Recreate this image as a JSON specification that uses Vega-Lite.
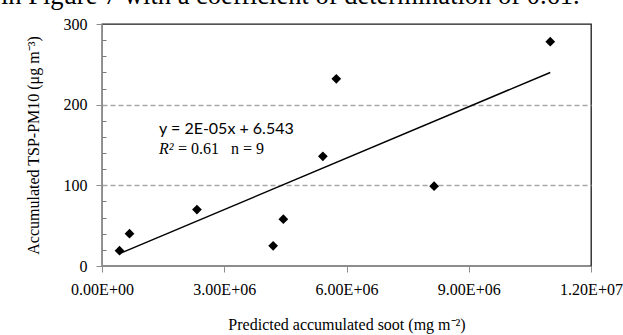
{
  "$schema": "https://vega.github.io/schema/vega-lite/v6.json",
  "width": 489,
  "height": 242,
  "autosize": "none",
  "padding": {"left": 102, "top": 24, "right": 32, "bottom": 69},
  "background": "white",
  "title": {
    "text": "in Figure 7 with a coefficient of determination of 0.61.",
    "anchor": "start",
    "frame": "group",
    "orient": "top",
    "font": "Liberation Serif",
    "fontSize": 26.5,
    "fontWeight": "normal",
    "color": "black",
    "baseline": "alphabetic",
    "offset": -14,
    "dx": -101
  },
  "config": {"view": {"stroke": "#1a1a1a", "strokeWidth": 1.3}},
  "resolve": {"axis": {"y": "independent"}},
  "datasets": {
    "points": [
      {"x": 430000, "y": 19},
      {"x": 675000, "y": 40},
      {"x": 2330000, "y": 70},
      {"x": 4200000, "y": 25},
      {"x": 4450000, "y": 58},
      {"x": 5420000, "y": 136},
      {"x": 5750000, "y": 232},
      {"x": 8150000, "y": 99},
      {"x": 11000000, "y": 278}
    ]
  },
  "layer": [
    {
      "data": {"name": "points"},
      "mark": {"type": "point", "shape": "diamond", "filled": true, "color": "black", "size": 95, "opacity": 1},
      "encoding": {
        "x": {
          "field": "x",
          "type": "quantitative",
          "scale": {"domain": [0, 12000000], "nice": false},
          "axis": {
            "values": [0, 3000000, 6000000, 9000000, 12000000],
            "labelExpr": "replace(format(datum.value, '.2e'), 'e+', 'E+0')",
            "grid": false,
            "domainColor": "#8c8c8c",
            "tickColor": "#8c8c8c",
            "tickSize": 6,
            "labelFont": "Liberation Serif",
            "labelFontSize": 16,
            "labelColor": "black",
            "labelPadding": 9,
            "labelFlush": false,
            "labelOverlap": false,
            "title": "Predicted accumulated soot (mg m⁻²)",
            "titleFont": "Liberation Serif",
            "titleFontSize": 16,
            "titleFontWeight": "normal",
            "titleColor": "black",
            "titlePadding": 19
          }
        },
        "y": {
          "field": "y",
          "type": "quantitative",
          "scale": {"domain": [0, 300], "nice": false},
          "axis": {
            "orient": "left",
            "values": [0, 100, 200, 300],
            "tickSize": 6,
            "grid": true,
            "gridOpacity": {"condition": {"test": "datum.value === 100 || datum.value === 200", "value": 1}, "value": 0},
            "gridDash": [5, 3],
            "gridColor": "#a6a6a6",
            "gridWidth": 1.3,
            "domainColor": "#8c8c8c",
            "tickColor": "#8c8c8c",
            "labelFont": "Liberation Serif",
            "labelFontSize": 16,
            "labelColor": "black",
            "labelPadding": 9,
            "labelFlush": false,
            "labelOverlap": false,
            "title": "Accumulated TSP-PM10 (μg m⁻³)",
            "titleFont": "Liberation Serif",
            "titleFontSize": 16,
            "titleFontWeight": "normal",
            "titleColor": "black",
            "titlePadding": 22
          }
        }
      }
    },
    {
      "data": {"name": "points"},
      "transform": [{"regression": "y", "on": "x", "method": "linear"}],
      "mark": {"type": "line", "color": "black", "strokeWidth": 1.5},
      "encoding": {
        "x": {"field": "x", "type": "quantitative"},
        "y": {
          "field": "y",
          "type": "quantitative",
          "axis": {
            "orient": "left",
            "offset": -4,
            "values": [20, 40, 60, 80, 120, 140, 160, 180, 220, 240, 260, 280],
            "labels": false,
            "domain": false,
            "grid": false,
            "ticks": true,
            "tickSize": 4,
            "tickWidth": 1,
            "tickColor": "#7a7a7a",
            "title": null
          }
        }
      }
    },
    {
      "data": {"values": [{"t": "y = 2E-05x + 6.543"}]},
      "mark": {"type": "text", "align": "left", "baseline": "middle", "font": "Lato", "fontSize": 16, "color": "black"},
      "encoding": {
        "text": {"field": "t"},
        "x": {"datum": 1400000, "type": "quantitative"},
        "y": {"datum": 170, "type": "quantitative", "axis": null}
      }
    },
    {
      "data": {"values": [{"t": "R²"}]},
      "mark": {"type": "text", "align": "left", "baseline": "middle", "font": "Liberation Serif", "fontSize": 16, "fontStyle": "italic", "color": "black"},
      "encoding": {
        "text": {"field": "t"},
        "x": {"datum": 1400000, "type": "quantitative"},
        "y": {"datum": 145, "type": "quantitative", "axis": null}
      }
    },
    {
      "data": {"values": [{"t": "= 0.61\u00a0\u00a0\u00a0n = 9"}]},
      "mark": {"type": "text", "align": "left", "baseline": "middle", "font": "Liberation Serif", "fontSize": 16, "color": "black", "dx": 19},
      "encoding": {
        "text": {"field": "t"},
        "x": {"datum": 1400000, "type": "quantitative"},
        "y": {"datum": 145, "type": "quantitative", "axis": null}
      }
    }
  ]
}
